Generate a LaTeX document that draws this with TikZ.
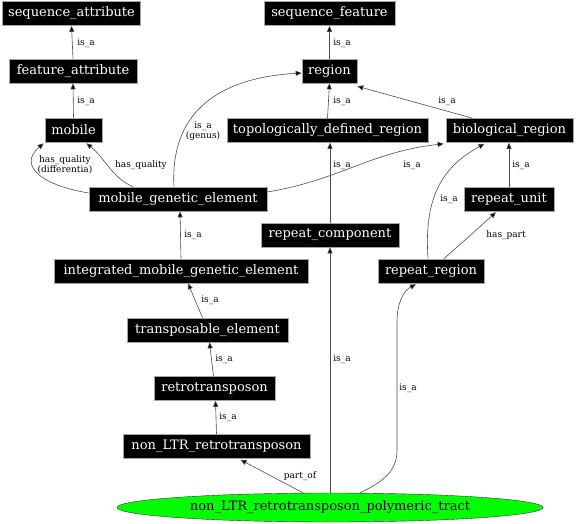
\documentclass[tikz,border=0pt]{standalone}
\usepackage{fontspec}
\setmainfont{DejaVu Serif}
\usetikzlibrary{arrows.meta,calc,shapes.geometric}
\tikzset{
  term/.style={fill=black,draw=gray!70,text=white,font=\fontsize{13}{14}\selectfont,minimum height=24pt,inner sep=0pt,line width=0.6pt},
  rel/.style={draw=black!70,line width=0.6pt,-{Triangle[length=6pt,width=5pt,fill=black]}},
  lab/.style={font=\fontsize{9}{10}\selectfont,inner sep=0pt,align=center,text=black}
}
\begin{document}
\begin{tikzpicture}[x=1pt,y=-1pt]
\useasboundingbox (0,0) rectangle (576,524);
% nodes
\node[term,minimum width=138pt] (sa) at (71.5,13.5) {sequence\_attribute};
\node[term,minimum width=128pt] (fa) at (73,71) {feature\_attribute};
\node[term,minimum width=57pt] (mob) at (73.5,130) {mobile};
\node[term,minimum width=131pt] (sf) at (329.5,13.5) {sequence\_feature};
\node[term,minimum width=55pt] (reg) at (329.5,71) {region};
\node[term,minimum width=201pt] (tdr) at (327.5,130.5) {topologically\_defined\_region};
\node[term,minimum width=127pt] (bio) at (509.5,130.5) {biological\_region};
\node[term,minimum width=178pt] (mge) at (178,199) {mobile\_genetic\_element};
\node[term,minimum width=138pt] (rc) at (330,235) {repeat\_component};
\node[term,minimum width=90pt] (ru) at (509,199) {repeat\_unit};
\node[term,minimum width=106pt] (rr) at (431,271) {repeat\_region};
\node[term,minimum width=254pt] (imge) at (181,271) {integrated\_mobile\_genetic\_element};
\node[term,minimum width=161pt] (te) at (207.5,330) {transposable\_element};
\node[term,minimum width=121pt] (rt) at (214.5,388.5) {retrotransposon};
\node[term,minimum width=187pt] (nl) at (216.5,446.5) {non\_LTR\_retrotransposon};
\node[ellipse,draw=black!80,fill=green,minimum width=426pt,minimum height=29pt,inner sep=0pt,font=\fontsize{13}{14}\selectfont] (tract) at (330,507.5) {non\_LTR\_retrotransposon\_polymeric\_tract};
% edges
\draw[rel] (fa.north) -- (sa.south);
\draw[rel] (mob.north) -- (fa.south);
\draw[rel] (reg.north) -- (sf.south);
\draw[rel] (tdr.north) -- (reg.south);
\draw[rel] ($(bio.north)+(-37,0)$) -- ($(reg.south east)+(0,3)$);
\draw[rel] ($(mge.north)+(-4,0)$) .. controls (170,115) and (215,78) .. ($(reg.west)+(0,2)$);
\draw[rel] ($(mge.west)+(0,-6)$) .. controls (40,185) and (18,165) .. ($(mob.south west)+(-1,1)$);
\draw[rel] ($(mge.north)+(-45,0)$) .. controls (112,178) and (105,158) .. ($(mob.south east)+(-16,1)$);
\draw[rel] ($(mge.east)+(0,-7)$) .. controls (340,180) and (370,152) .. ($(bio.south west)+(-2,1)$);
\draw[rel] (rc.north) -- (rc.north |- tdr.south);
\draw[rel] (ru.north) -- (bio.south -| ru.north);
\draw[rel] ($(rr.north)+(-3,0)$) .. controls (424,200) and (440,168) .. ($(bio.south)+(-25,1)$);
\draw[rel] ($(rr.north)+(13,0)$) -- ($(ru.south)+(-13,1)$);
\draw[rel] (imge.north) -- ($(mge.south)+(2,0)$);
\draw[rel] ($(te.north)+(-5,0)$) -- ($(imge.south)+(7,0)$);
\draw[rel] ($(rt.north)+(-1,0)$) -- ($(te.south)+(2,0)$);
\draw[rel] (nl.north) -- ($(rt.south)+(1,0)$);
\draw[rel] ($(tract.north)+(-27,0)$) -- ($(nl.south)+(24,1)$);
\draw[rel] (tract.north) -- (rc.south);
\draw[rel] ($(tract.north)+(30,0)$) .. controls (385,481) and (397,470) .. (397,450) -- (397,323) .. controls (397,300) and (405,290) .. ($(rr.south)+(-15,1)$);
% labels
\node[lab] (l1) at (86,43) {is\_a};
\node[lab] (l2) at (86,101) {is\_a};
\node[lab] (l3) at (342,43) {is\_a};
\node[lab] (l4) at (342,101) {is\_a};
\node[lab] (l5) at (447,101) {is\_a};
\node[lab] (l6) at (203,131) {is\_a\\(genus)};
\node[lab] (l7) at (65,165) {has\_quality\\(differentia)};
\node[lab] (l8) at (141,165) {has\_quality};
\node[lab] (l9) at (412,165) {is\_a};
\node[lab] (l10) at (342,165) {is\_a};
\node[lab] (l11) at (521,165) {is\_a};
\node[lab] (l12) at (449,199) {is\_a};
\node[lab] (l13) at (506,235) {has\_part};
\node[lab] (l14) at (193,235) {is\_a};
\node[lab] (l15) at (210,300) {is\_a};
\node[lab] (l16) at (224,359) {is\_a};
\node[lab] (l17) at (228,417) {is\_a};
\node[lab] (l18) at (300,476) {part\_of};
\node[lab] (l19) at (342,359) {is\_a};
\node[lab] (l20) at (408,388) {is\_a};
\end{tikzpicture}
\end{document}
